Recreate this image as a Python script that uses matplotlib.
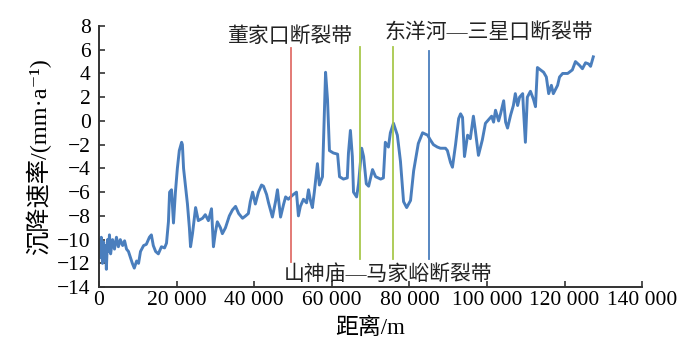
import matplotlib.pyplot as plt

plt.rcParams['font.family'] = ['Liberation Serif', 'Noto Sans CJK SC', 'DejaVu Serif']

# subsidence rate profile along the section
distance = [0, 400, 600, 900, 1200, 1400, 1700, 1900, 2200, 2450, 2700, 3000,
            3500, 4000, 4500, 5000, 5500, 6100, 6600, 7100, 7600, 8100, 8600,
            9100, 9700, 10200, 10700, 11500, 12200, 13000, 13500, 14000, 14600,
            15300, 16100, 16900, 17400, 17900, 18200, 18700, 19200, 19700,
            20200, 20700, 21300, 21500, 21800, 22300, 22800, 23300, 23600,
            24100, 24900, 25600, 26700, 27400, 28200, 29000, 29500, 30000,
            30500, 31300, 31800, 32600, 33600, 34400, 35200, 36000, 37000,
            37800, 38500, 39000, 39600, 40300, 41100, 41900, 42400, 43200,
            43700, 44700, 45500, 46000, 46800, 47600, 48100, 48800, 49400,
            50100, 50900, 51400, 51900, 52700, 53500, 54000, 54500, 55000,
            55500, 56300, 56800, 57600, 58100, 58400, 58900, 59400, 60400,
            61500, 62000, 63000, 64000, 64300, 64800, 65300, 65600, 66400,
            66900, 67700, 68200, 68900, 69500, 70500, 71300, 72600, 73300,
            73800, 74600, 75100, 75900, 76900, 77700, 78500, 79300, 80300,
            81100, 82300, 83400, 84700, 85400, 86200, 87200, 88000, 89300,
            89800, 90600, 91100, 91900, 92700, 93200, 93700, 94200, 95000,
            95700, 96500, 97000, 97800, 98800, 99600, 100400, 101200, 101700,
            102200, 103000, 103500, 104300, 104800, 105300, 106100, 106800,
            107300, 107900, 108400, 109200, 109400, 109900, 110400, 111200,
            112000, 112500, 113000, 113800, 114600, 115300, 115900, 116600,
            117100, 118200, 118700, 119500, 120800, 122000, 122800, 123800,
            124600, 125400, 126200, 126700, 127400]
rate = [-10.0, -11.5, -9.8, -12.0, -10.2, -11.8, -10.5, -12.5, -10.0, -11.0,
        -9.6, -11.2, -10.0, -10.8, -9.8, -10.6, -10.0, -10.5, -10.1, -10.8,
        -11.0, -11.5, -12.0, -12.4, -11.8, -12.0, -11.0, -10.5, -10.4, -9.8,
        -9.6, -10.5, -11.0, -11.2, -10.6, -10.7, -10.3, -8.5, -6.0, -5.8,
        -8.6, -6.0, -4.0, -2.5, -1.8, -2.0, -4.0, -5.5, -7.0, -9.0, -10.6,
        -9.5, -7.3, -8.4, -8.2, -7.9, -8.4, -7.4, -10.6, -9.4, -8.5, -9.0,
        -9.5, -9.0, -8.0, -7.5, -7.2, -7.8, -8.2, -8.0, -7.8, -6.8, -6.0,
        -7.0, -6.0, -5.4, -5.5, -6.2, -6.9, -8.1, -6.8, -5.8, -8.1, -7.0,
        -6.4, -6.6, -6.4, -6.2, -6.0, -8.0, -7.2, -6.6, -6.9, -5.8, -6.7,
        -7.3, -6.0, -3.6, -5.4, -4.7, 1.0, 4.1, 1.8, -2.5, -2.7, -2.8, -4.7,
        -4.9, -4.8, -2.7, -0.8, -3.0, -6.0, -6.4, -5.3, -2.3, -3.0, -5.3,
        -5.5, -4.1, -4.7, -4.9, -4.8, -1.8, -2.2, -1.0, -0.2, -1.2, -3.4,
        -6.8, -7.3, -6.7, -4.2, -1.9, -1.0, -1.2, -1.6, -2.0, -2.2, -2.3,
        -2.3, -2.5, -3.5, -3.9, -2.0, 0.2, 0.6, 0.3, -3.0, -1.2, -1.5, 0.4,
        -0.8, -2.9, -1.6, -0.2, 0.1, 0.4, -0.1, 0.9, 0.0, 0.6, 1.7, -0.1,
        -0.6, 0.5, 1.3, 2.3, 1.3, 2.0, 2.3, 1.0, -1.8, 2.0, 2.5, 1.8, 1.2,
        4.5, 4.3, 4.1, 3.7, 2.3, 3.0, 2.3, 3.0, 3.7, 4.0, 4.0, 4.3, 5.0, 4.7,
        4.4, 4.9, 4.8, 4.6, 5.4]

# fault zones: position, vertical extent, colour
fault_x = [49400, 67400, 75900, 85100]
fault_top = [6.15, 6.2, 6.2, 5.9]
fault_bottom = [-11.9, -11.6, -11.6, -11.6]
fault_colors = ['#e0706a', '#a8c84c', '#a8c84c', '#4a7ebd']

x_ticks = [0, 20000, 40000, 60000, 80000, 100000, 120000, 140000]
x_labels = ['0', '20 000', '40 000', '60 000', '80 000', '100 000',
            '120 000', '140 000']
y_ticks = list(range(-14, 9, 2))

fig = plt.figure(figsize=(7, 3.54), dpi=100)
ax = fig.add_axes([0.1414, 0.189, 0.776, 0.7376])

ax.plot(distance, rate, color='#4a7ebd', linewidth=2.1, zorder=2)
for fx, ft, fb, fc in zip(fault_x, fault_top, fault_bottom, fault_colors):
    ax.plot([fx, fx], [fb, ft], color=fc, linewidth=1.3, zorder=3)

ax.set_xlim(0, 140000)
ax.set_ylim(-14, 8)
ax.set_xticks(x_ticks)
ax.set_xticklabels(x_labels)
ax.set_yticks(y_ticks)
ax.tick_params(direction='in', length=4, width=1.2, labelsize=15.5,
               color='#333333')
ax.tick_params(axis='x', pad=3)
ax.tick_params(axis='y', pad=6)
for s in ['top', 'right']:
    ax.spines[s].set_visible(False)
for s in ['left', 'bottom']:
    ax.spines[s].set_linewidth(1.4)
    ax.spines[s].set_color('#333333')

ax.set_xlabel('距离/m', fontsize=16.5, labelpad=5)
ax.set_ylabel('沉降速率/(mm·a⁻¹)', fontsize=17.5, labelpad=4)

ax.text(49400, 7.1, '董家口断裂带', ha='center', va='center', fontsize=15,
        color='#222222')
ax.text(100500, 7.4, '东洋河—三星口断裂带', ha='center', va='center',
        fontsize=15, color='#222222')
ax.text(74500, -13.0, '山神庙—马家峪断裂带', ha='center', va='center',
        fontsize=15, color='#222222')

fig.savefig('out.png', dpi=100)
